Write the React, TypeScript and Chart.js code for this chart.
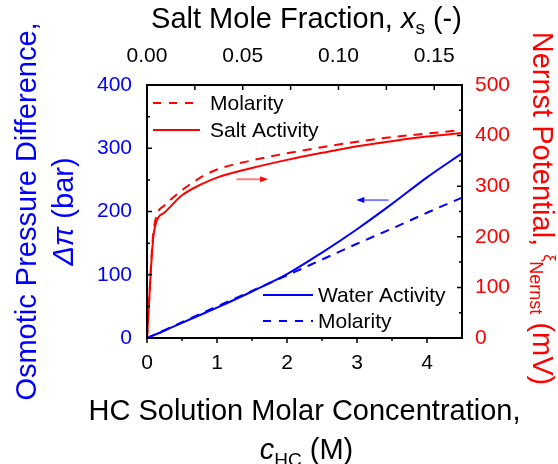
import React, { useEffect, useRef } from "react";
import { Chart, registerables } from "chart.js";

Chart.register(...registerables);

// ---- data ----
const concentration = [0, 0.1, 0.25, 0.5, 0.75, 1, 1.5, 2, 2.5, 3, 3.5, 4, 4.5];
const osmoticWaterActivity = [0, 4.5, 11.5, 24, 36, 48, 73.5, 101, 135, 172, 212, 254, 292];
const osmoticMolarity = [0, 5, 12.5, 25, 37.5, 50, 74.5, 99, 124, 149, 173, 198, 222];
const nernstSaltActivity = [0, 210, 248, 282, 302, 317, 336, 352, 366, 379, 389, 398, 405];
const nernstMolarity = [0, 218, 262, 292, 316, 333, 351, 365, 377, 388, 397, 404, 411];

// ---- ticks ----
const bottomTicks = [0, 1, 2, 3, 4];
const bottomMinorTicks = [0.5, 1.5, 2.5, 3.5];
const topTicks = [0, 0.05, 0.1, 0.15];
const topMinorTicks = [0.025, 0.075, 0.125];
const leftTicks = [0, 100, 200, 300, 400];
const leftMinorTicks = [50, 150, 250, 350];
const rightTicks = [0, 100, 200, 300, 400, 500];
const rightMinorTicks = [50, 150, 250, 350, 450];

// ---- annotation arrows (data coordinates, left axis value) ----
const redArrow = { from: 1.28, to: 1.73, value: 251 };
const blueArrow = { from: 3.45, to: 2.99, value: 218 };

const FAMILY = '"Liberation Sans", Arial, Helvetica, sans-serif';
const BLUE = "rgb(0,0,255)";
const RED = "rgb(255,0,0)";

type Run = { text: string; size: number; italic?: boolean; dy?: number };

function font(size: number, italic?: boolean) {
  return `${italic ? "italic " : ""}${size}px ${FAMILY}`;
}

function drawRuns(ctx: CanvasRenderingContext2D, runs: Run[], cx: number, y: number) {
  let total = 0;
  for (const r of runs) {
    ctx.font = font(r.size, r.italic);
    total += ctx.measureText(r.text).width;
  }
  let x = cx - total / 2;
  ctx.textAlign = "left";
  ctx.textBaseline = "alphabetic";
  for (const r of runs) {
    ctx.font = font(r.size, r.italic);
    ctx.fillText(r.text, x, y + (r.dy || 0));
    x += ctx.measureText(r.text).width;
  }
}

const decorPlugin = {
  id: "decor",
  afterDraw(chart: any) {
    const ctx: CanvasRenderingContext2D = chart.ctx;
    const { left, right, top, bottom } = chart.chartArea;
    const sx = chart.scales.x;
    const sxt = chart.scales.xTop;
    const sy = chart.scales.y;
    const sy2 = chart.scales.y2;
    ctx.save();

    // frame
    ctx.strokeStyle = "#000";
    ctx.lineWidth = 2;
    ctx.strokeRect(left, top, right - left, bottom - top);

    // tick marks
    ctx.lineWidth = 1.5;
    ctx.beginPath();
    const MAJ = 5, MIN = 3;
    bottomTicks.forEach((v) => { const p = sx.getPixelForValue(v); ctx.moveTo(p, bottom); ctx.lineTo(p, bottom + MAJ); });
    bottomMinorTicks.forEach((v) => { const p = sx.getPixelForValue(v); ctx.moveTo(p, bottom); ctx.lineTo(p, bottom + MIN); });
    topTicks.forEach((v) => { const p = sxt.getPixelForValue(v); ctx.moveTo(p, top); ctx.lineTo(p, top + MAJ); });
    topMinorTicks.forEach((v) => { const p = sxt.getPixelForValue(v); ctx.moveTo(p, top); ctx.lineTo(p, top + MAJ); });
    leftTicks.forEach((v) => { const p = sy.getPixelForValue(v); ctx.moveTo(left, p); ctx.lineTo(left + MAJ, p); });
    leftMinorTicks.forEach((v) => { const p = sy.getPixelForValue(v); ctx.moveTo(left, p); ctx.lineTo(left + MIN, p); });
    rightTicks.forEach((v) => { const p = sy2.getPixelForValue(v); ctx.moveTo(right, p); ctx.lineTo(right - MAJ, p); });
    rightMinorTicks.forEach((v) => { const p = sy2.getPixelForValue(v); ctx.moveTo(right, p); ctx.lineTo(right - MIN, p); });
    ctx.stroke();

    // legends
    const legendLine = (x1: number, x2: number, y: number, color: string, dashed: boolean) => {
      ctx.beginPath();
      ctx.strokeStyle = color;
      ctx.lineWidth = 2;
      ctx.setLineDash(dashed ? [8, 8] : []);
      ctx.moveTo(x1, y);
      ctx.lineTo(x2, y);
      ctx.stroke();
      ctx.setLineDash([]);
    };
    const legendText = (t: string, x: number, y: number) => {
      ctx.fillStyle = "#000";
      ctx.font = font(21);
      ctx.textAlign = "left";
      ctx.textBaseline = "middle";
      ctx.fillText(t, x, y);
    };
    legendLine(left + 6, left + 53, top + 18, RED, true);
    legendText("Molarity", left + 63, top + 19);
    legendLine(left + 6, left + 53, top + 45, RED, false);
    legendText("Salt Activity", left + 63, top + 46);
    legendLine(left + 116, left + 166, top + 210, BLUE, false);
    legendText("Water Activity", left + 171, top + 211);
    legendLine(left + 116, left + 166, top + 236, BLUE, true);
    legendText("Molarity", left + 171, top + 237);

    // arrows
    const arrow = (a: { from: number; to: number; value: number }, shaft: string, head: string) => {
      const x1 = sx.getPixelForValue(a.from);
      const x2 = sx.getPixelForValue(a.to);
      const y = sy.getPixelForValue(a.value);
      const dir = Math.sign(x2 - x1);
      const hl = 8;
      ctx.beginPath();
      ctx.strokeStyle = shaft;
      ctx.lineWidth = 2;
      ctx.moveTo(x1, y);
      ctx.lineTo(x2 - dir * hl, y);
      ctx.stroke();
      ctx.beginPath();
      ctx.fillStyle = head;
      ctx.moveTo(x2, y);
      ctx.lineTo(x2 - dir * hl, y - 3);
      ctx.lineTo(x2 - dir * hl, y + 3);
      ctx.closePath();
      ctx.fill();
    };
    arrow(redArrow, "rgba(255,0,0,0.5)", RED);
    arrow(blueArrow, "rgba(0,0,255,0.5)", BLUE);

    // axis titles
    const cx = (left + right) / 2;
    const cy = (top + bottom) / 2;
    ctx.fillStyle = "#000";
    drawRuns(ctx, [
      { text: "Salt Mole Fraction, ", size: 29 },
      { text: "x", size: 29, italic: true },
      { text: "s", size: 19, dy: 6 },
      { text: " (-)", size: 29 },
    ], cx + 2, 28);

    drawRuns(ctx, [{ text: "HC Solution Molar Concentration,", size: 29 }], cx, 420);
    drawRuns(ctx, [
      { text: "c", size: 29, italic: true },
      { text: "HC", size: 19, dy: 7 },
      { text: " (M)", size: 29 },
    ], cx + 2, 459);

    // left title (rotated)
    ctx.save();
    ctx.fillStyle = BLUE;
    ctx.translate(36, cy);
    ctx.rotate(-Math.PI / 2);
    drawRuns(ctx, [{ text: "Osmotic Pressure Difference,", size: 29 }], 0, 0);
    ctx.restore();
    ctx.save();
    ctx.fillStyle = BLUE;
    ctx.translate(73, cy);
    ctx.rotate(-Math.PI / 2);
    drawRuns(ctx, [
      { text: "\u0394", size: 29, italic: true },
      { text: "\u03c0", size: 29, italic: true },
      { text: " (bar)", size: 29 },
    ], 0, 0);
    ctx.restore();

    // right title (rotated)
    ctx.save();
    ctx.fillStyle = RED;
    ctx.translate(533, cy - 3);
    ctx.rotate(Math.PI / 2);
    drawRuns(ctx, [
      { text: "Nernst Potential, ", size: 29 },
      { text: "\u03be", size: 16, dy: -11 },
      { text: "Nernst", size: 18, dy: 3 },
      { text: " (mV)", size: 29 },
    ], 0, 0);
    ctx.restore();

    ctx.restore();
  },
};

export default function App() {
  const ref = useRef<HTMLCanvasElement | null>(null);

  useEffect(() => {
    if (!ref.current) return;
    const pts = (ys: number[]) => concentration.map((x, i) => ({ x, y: ys[i] }));
    const tickFont = { size: 21, family: FAMILY };
    const chart = new Chart(ref.current, {
      type: "line",
      data: {
        datasets: [
          {
            label: "Molarity (Nernst)",
            data: pts(nernstMolarity),
            xAxisID: "x",
            yAxisID: "y2",
            borderColor: RED,
            borderWidth: 2,
            borderDash: [9, 7],
            pointRadius: 0,
            cubicInterpolationMode: "monotone",
          },
          {
            label: "Salt Activity",
            data: pts(nernstSaltActivity),
            xAxisID: "x",
            yAxisID: "y2",
            borderColor: RED,
            borderWidth: 2,
            pointRadius: 0,
            cubicInterpolationMode: "monotone",
          },
          {
            label: "Molarity (osmotic)",
            data: pts(osmoticMolarity),
            xAxisID: "x",
            yAxisID: "y",
            borderColor: BLUE,
            borderWidth: 2,
            borderDash: [9, 7],
            pointRadius: 0,
            cubicInterpolationMode: "monotone",
          },
          {
            label: "Water Activity",
            data: pts(osmoticWaterActivity),
            xAxisID: "x",
            yAxisID: "y",
            borderColor: BLUE,
            borderWidth: 2,
            pointRadius: 0,
            cubicInterpolationMode: "monotone",
          },
        ],
      },
      options: {
        responsive: false,
        animation: false,
        layout: { padding: 0 },
        plugins: { legend: { display: false }, tooltip: { enabled: false } },
        scales: {
          x: {
            type: "linear",
            position: "bottom",
            min: 0,
            max: 4.5,
            grid: { display: false },
            border: { display: false },
            ticks: { font: tickFont, color: "#000", padding: 5, callback: (v: any) => String(v) },
            afterBuildTicks: (s: any) => { s.ticks = bottomTicks.map((value) => ({ value })); },
            afterFit: (s: any) => { s.height = 126; },
          },
          xTop: {
            type: "linear",
            position: "top",
            min: 0,
            max: 0.1645,
            grid: { display: false },
            border: { display: false },
            ticks: { font: tickFont, color: "#000", padding: 8, callback: (v: any) => Number(v).toFixed(2) },
            afterBuildTicks: (s: any) => { s.ticks = topTicks.map((value) => ({ value })); },
            afterFit: (s: any) => { s.height = 85; },
          },
          y: {
            type: "linear",
            position: "left",
            min: 0,
            max: 400,
            grid: { display: false },
            border: { display: false },
            ticks: { font: tickFont, color: BLUE, padding: 7, callback: (v: any) => String(v) },
            afterBuildTicks: (s: any) => { s.ticks = leftTicks.map((value) => ({ value })); },
            afterFit: (s: any) => { s.width = 147; },
          },
          y2: {
            type: "linear",
            position: "right",
            min: 0,
            max: 500,
            grid: { display: false },
            border: { display: false },
            ticks: { font: tickFont, color: RED, padding: 5, callback: (v: any) => String(v) },
            afterBuildTicks: (s: any) => { s.ticks = rightTicks.map((value) => ({ value })); },
            afterFit: (s: any) => { s.width = 96; },
          },
        },
      },
      plugins: [decorPlugin],
    } as any);
    return () => chart.destroy();
  }, []);

  return (
    <div style={{ position: "fixed", left: 0, top: 0, width: 558, height: 464, background: "#fff" }}>
      <canvas ref={ref} width={558} height={464} style={{ display: "block", width: 558, height: 464 }} />
    </div>
  );
}
